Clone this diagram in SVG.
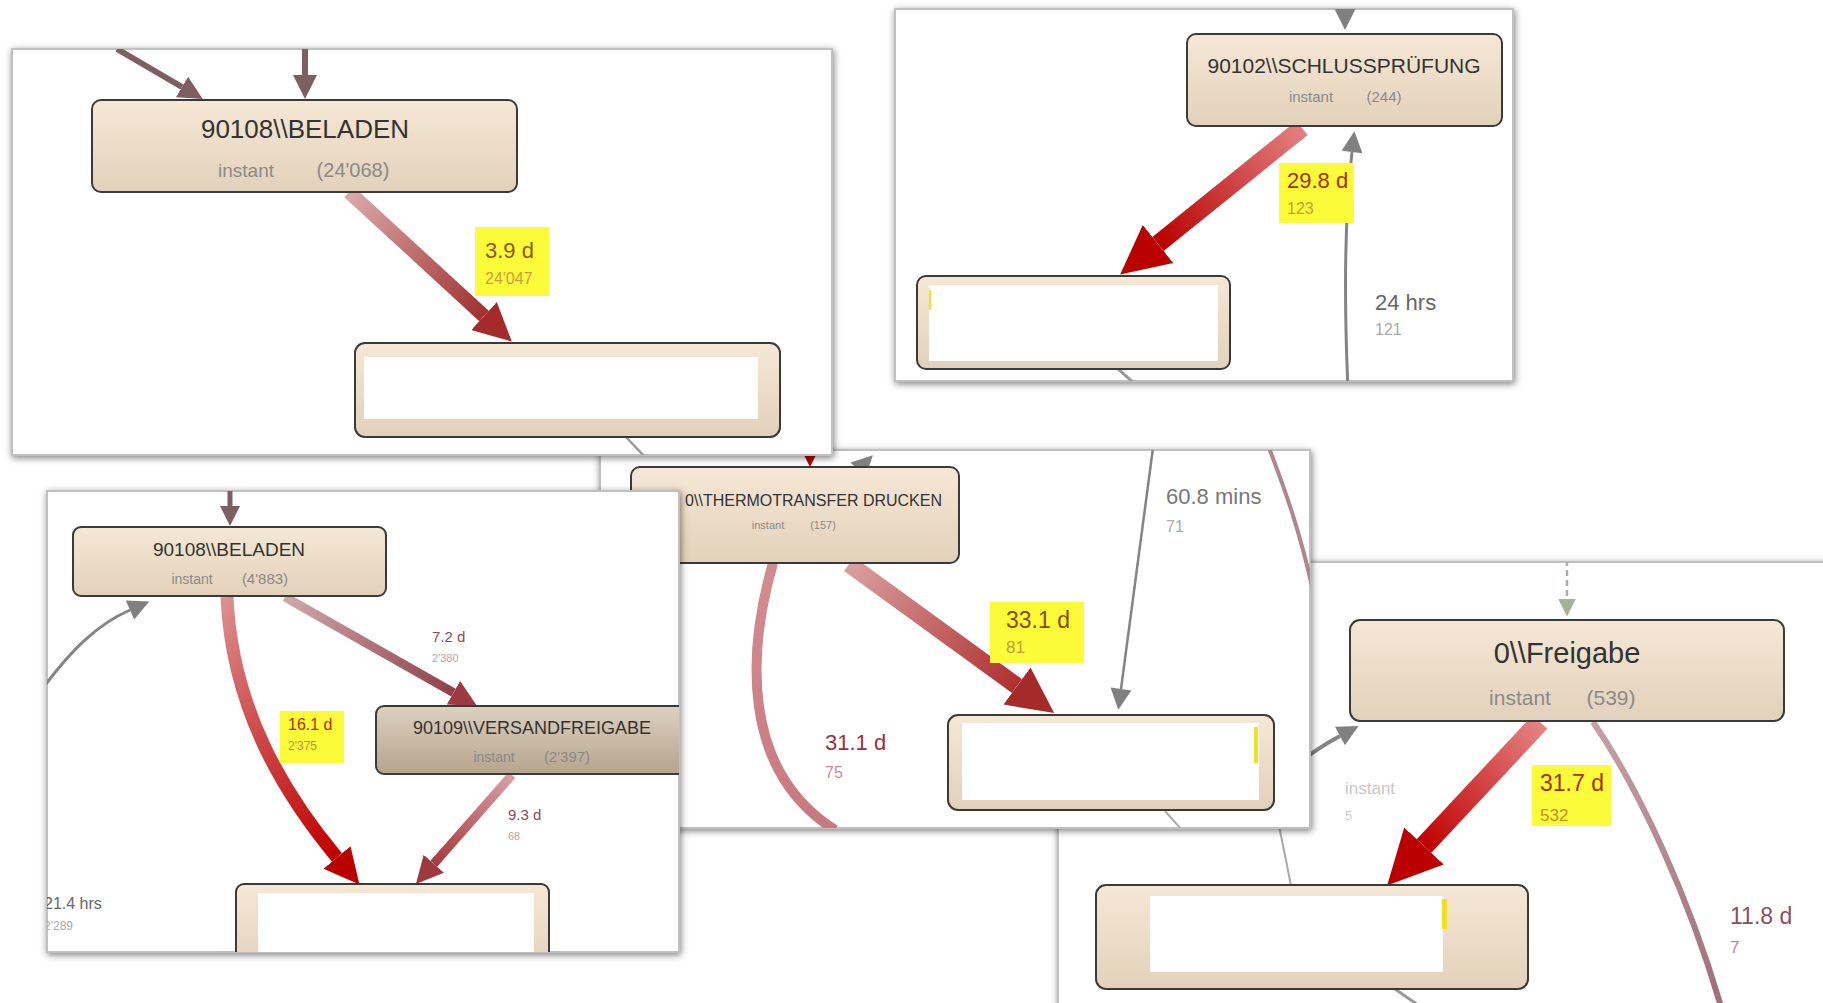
<svg xmlns="http://www.w3.org/2000/svg" width="1823" height="1003" viewBox="0 0 1823 1003">
<style>
text{font-family:"Liberation Sans",Arial,sans-serif}
.panel{fill:#fff;stroke:#c0c0c0;stroke-width:2;filter:url(#sh)}
.node{fill:url(#gNode);stroke:#3a3a3a;stroke-width:2}
.nodeDark{fill:url(#gNodeDark);stroke:#3a3a3a;stroke-width:2}
.inner{fill:#fff}
.title{fill:#333;text-anchor:middle}
.sub{fill:#8a8a8a;text-anchor:middle}
.ybox{fill:#fbfb3a}
.e{fill:none;stroke-linecap:butt}
.grey{stroke:#848484}
.mauve{stroke:#7d5f63}
</style>
<defs>
<filter id="sh" x="-5%" y="-5%" width="112%" height="115%"><feDropShadow dx="1" dy="2" stdDeviation="3.5" flood-color="#000" flood-opacity="0.5"/></filter>
<linearGradient id="gNode" x1="0" y1="0" x2="0" y2="1"><stop offset="0" stop-color="#f6e8d6"/><stop offset="1" stop-color="#e2d1ba"/></linearGradient>
<linearGradient id="gNodeDark" x1="0" y1="0" x2="0" y2="1"><stop offset="0" stop-color="#ddd0bf"/><stop offset="1" stop-color="#b5a48e"/></linearGradient>
<linearGradient id="gA1" gradientUnits="userSpaceOnUse" x1="349" y1="192" x2="484" y2="316"><stop offset="0" stop-color="#dcaaaa"/><stop offset="1" stop-color="#a03030"/></linearGradient>
<linearGradient id="gA2" gradientUnits="userSpaceOnUse" x1="1302" y1="128" x2="1158" y2="244"><stop offset="0" stop-color="#e48080"/><stop offset="1" stop-color="#b80000"/></linearGradient>
<linearGradient id="gA3c" gradientUnits="userSpaceOnUse" x1="227" y1="597" x2="337" y2="857"><stop offset="0" stop-color="#dc9090"/><stop offset="1" stop-color="#c00000"/></linearGradient>
<linearGradient id="gA3v" gradientUnits="userSpaceOnUse" x1="285" y1="597" x2="453" y2="693"><stop offset="0" stop-color="#cfa9ac"/><stop offset="1" stop-color="#904048"/></linearGradient>
<linearGradient id="gV" gradientUnits="userSpaceOnUse" x1="512" y1="775" x2="434" y2="864"><stop offset="0" stop-color="#d9a0a4"/><stop offset="1" stop-color="#a53a40"/></linearGradient>
<linearGradient id="gT1" gradientUnits="userSpaceOnUse" x1="773" y1="563" x2="835" y2="828"><stop offset="0" stop-color="#d28c90"/><stop offset="1" stop-color="#c87880"/></linearGradient>
<linearGradient id="gT2" gradientUnits="userSpaceOnUse" x1="849" y1="564" x2="1017" y2="686"><stop offset="0" stop-color="#daa0a0"/><stop offset="1" stop-color="#b03030"/></linearGradient>
<linearGradient id="gF1" gradientUnits="userSpaceOnUse" x1="1540" y1="722" x2="1424" y2="846"><stop offset="0" stop-color="#e48484"/><stop offset="1" stop-color="#c00000"/></linearGradient>
<linearGradient id="gF2" gradientUnits="userSpaceOnUse" x1="1593" y1="722" x2="1718" y2="1003"><stop offset="0" stop-color="#c6a0a6"/><stop offset="1" stop-color="#a0707a"/></linearGradient>
<marker id="mRed" viewBox="0 0 10 10" refX="0" refY="5" markerWidth="2.7" markerHeight="3.2" orient="auto" markerUnits="strokeWidth"><path d="M0,0 L10,5 L0,10 z" fill="#bb0000"/></marker>
<marker id="mDarkRed" viewBox="0 0 10 10" refX="0" refY="5" markerWidth="2.7" markerHeight="3.2" orient="auto" markerUnits="strokeWidth"><path d="M0,0 L10,5 L0,10 z" fill="#a52a2a"/></marker>
<marker id="mMid" viewBox="0 0 10 10" refX="0" refY="5" markerWidth="3" markerHeight="3.6" orient="auto" markerUnits="strokeWidth"><path d="M0,0 L10,5 L0,10 z" fill="#9c3a40"/></marker>
<marker id="mMauve" viewBox="0 0 10 10" refX="0" refY="5" markerWidth="4" markerHeight="5" orient="auto" markerUnits="strokeWidth"><path d="M0,0 L10,5 L0,10 z" fill="#7d5f63"/></marker>
<marker id="mGrey" viewBox="0 0 10 10" refX="0" refY="5" markerWidth="24" markerHeight="21" orient="auto" markerUnits="userSpaceOnUse"><path d="M0,0 L10,5 L0,10 z" fill="#808080"/></marker>
<marker id="mGreen" viewBox="0 0 10 10" refX="0" refY="5" markerWidth="8" markerHeight="7" orient="auto" markerUnits="strokeWidth"><path d="M0,0 L10,5 L0,10 z" fill="#a3b394"/></marker>
<clipPath id="c1"><rect x="12" y="49" width="820" height="406"/></clipPath>
<clipPath id="c2"><rect x="895" y="9" width="618" height="372"/></clipPath>
<clipPath id="c3"><rect x="47" y="491" width="632" height="461"/></clipPath>
<clipPath id="c4"><rect x="600" y="450" width="710" height="378"/></clipPath>
<clipPath id="c5"><rect x="1058" y="562" width="790" height="460"/></clipPath>
</defs>
<rect width="1823" height="1003" fill="#fff"/>

<!-- Panel 5 -->
<g id="panel5">
<rect class="panel" x="1058" y="562" width="790" height="460"/>
<g clip-path="url(#c5)">
<g id="connectors-p5">
<path class="e" d="M1567,560 L1567,599" stroke="#a3b394" stroke-width="2.5" stroke-dasharray="6,4" marker-end="url(#mGreen)"/>
<path class="e grey" d="M1285,775 Q1310,752 1340,736" stroke="#7a7a7a" stroke-width="4" marker-end="url(#mGrey)"/>
<path class="e" d="M1540,722 L1424,846" stroke="url(#gF1)" stroke-width="20" marker-end="url(#mRed)"/>
<path class="e" d="M1593,722 C1640,790 1690,900 1722,1010" stroke="url(#gF2)" stroke-width="6"/>
<path class="e" d="M1279,826 C1284,850 1288,870 1291,886" stroke="#aaaaaa" stroke-width="2"/>
<path class="e" d="M1395,989 L1418,1005" stroke="#999" stroke-width="3"/>
<rect class="ybox" x="1532" y="765" width="79" height="61"/>
<text x="1540" y="791" font-size="23" fill="#a83000">31.7 d</text>
<text x="1540" y="821" font-size="17" fill="#c09030">532</text>
<text x="1345" y="794" font-size="17" fill="#c8c8c8">instant</text>
<text x="1345" y="820" font-size="13" fill="#cccccc">5</text>
<text x="1730" y="924" font-size="23" fill="#8a5060">11.8 d</text>
<text x="1730" y="953" font-size="17" fill="#b090a0">7</text>
</g>
<g id="node-freigabe">
<rect class="node" x="1350" y="620" width="434" height="101" rx="10"/>
<text class="title" x="1567" y="663" font-size="29">0\\Freigabe</text>
<text class="sub" x="1520" y="705" font-size="21">instant</text>
<text class="sub" x="1611" y="705" font-size="21">(539)</text>
</g>
<g id="node-p5-bottom">
<rect class="node" x="1096" y="885" width="432" height="104" rx="10"/>
<rect class="inner" x="1150" y="896" width="293" height="76"/>
<rect x="1442" y="899" width="5" height="30" fill="#f0e020"/>
</g>
</g>
</g>

<!-- Panel 4 -->
<g id="panel4">
<rect class="panel" x="600" y="450" width="710" height="378"/>
<g clip-path="url(#c4)">
<g id="connectors-p4">
<path class="e" d="M810,400 L810,434.6" stroke="#b80000" stroke-width="12" marker-end="url(#mRed)"/>
<path class="e grey" d="M848,480 L858,470" stroke-width="3" marker-end="url(#mGrey)"/>
<path class="e" d="M773,563 C748,650 740,770 835,830" stroke="url(#gT1)" stroke-width="10"/>
<path class="e" d="M849,564 L1017,686" stroke="url(#gT2)" stroke-width="17" marker-end="url(#mDarkRed)"/>
<path class="e grey" d="M1153,448 L1121,689" stroke-width="2.5" marker-end="url(#mGrey)"/>
<path class="e" d="M1268,445 C1285,490 1300,530 1315,600" stroke="#b0868d" stroke-width="4"/>
<path class="e" d="M1165,811 L1182,830" stroke="#aaa" stroke-width="2"/>
<rect class="ybox" x="990" y="602" width="94" height="61"/>
<text x="1006" y="628" font-size="23" fill="#8a4a00">33.1 d</text>
<text x="1006" y="653" font-size="17" fill="#c0a040">81</text>
<text x="825" y="750" font-size="22" fill="#9a3040">31.1 d</text>
<text x="825" y="778" font-size="16" fill="#c090a0">75</text>
<text x="1166" y="504" font-size="22" fill="#777">60.8 mins</text>
<text x="1166" y="532" font-size="16" fill="#aaa">71</text>
</g>
<g id="node-thermotransfer">
<rect class="node" x="631" y="467" width="328" height="96" rx="9"/>
<text x="942" y="506" font-size="16" fill="#333" text-anchor="end">0\\THERMOTRANSFER DRUCKEN</text>
<text class="sub" x="768" y="529" font-size="11">instant</text>
<text class="sub" x="823" y="529" font-size="11">(157)</text>
</g>
<g id="node-p4-bottom">
<rect class="node" x="948" y="715" width="326" height="95" rx="10"/>
<rect class="inner" x="962" y="723" width="297" height="77"/>
<rect x="1254" y="727" width="4" height="36" fill="#f0e020"/>
</g>
</g>
</g>

<!-- Panel 2 -->
<g id="panel2">
<rect class="panel" x="895" y="9" width="618" height="372"/>
<g clip-path="url(#c2)">
<g id="connectors-p2">
<path class="e" d="M1345,0 L1345,9" stroke="#6f6f6f" stroke-width="3.5" marker-end="url(#mGrey)"/>
<path class="e" d="M1302,128 L1158,244" stroke="url(#gA2)" stroke-width="18" marker-end="url(#mRed)"/>
<path class="e grey" d="M1348,390 C1344,300 1344,222 1352,152" stroke="#8a8a8a" stroke-width="3" marker-end="url(#mGrey)"/>
<path class="e" d="M1117,368 L1135,384" stroke="#999" stroke-width="3"/>
<rect class="ybox" x="1279" y="163" width="75" height="60"/>
<text x="1287" y="188" font-size="22" fill="#a83000">29.8 d</text>
<text x="1287" y="214" font-size="16" fill="#c8a030">123</text>
<text x="1375" y="310" font-size="22" fill="#666">24 hrs</text>
<text x="1375" y="335" font-size="16" fill="#aaa">121</text>
</g>
<g id="node-schlusspruefung">
<rect class="node" x="1187" y="34" width="315" height="92" rx="9"/>
<text class="title" x="1344" y="73" font-size="21">90102\\SCHLUSSPRÜFUNG</text>
<text class="sub" x="1311" y="102" font-size="15">instant</text>
<text class="sub" x="1384" y="102" font-size="15">(244)</text>
</g>
<g id="node-p2-bottom">
<rect class="node" x="917" y="276" width="313" height="93" rx="9"/>
<rect class="inner" x="929" y="285" width="289" height="76"/>
<rect x="929" y="290" width="2" height="20" fill="#f0e020"/>
</g>
</g>
</g>

<!-- Panel 1 -->
<g id="panel1">
<rect class="panel" x="12" y="49" width="820" height="406"/>
<g clip-path="url(#c1)">
<g id="connectors-p1">
<path class="e mauve" d="M117,49 L182,87" stroke-width="6" marker-end="url(#mMauve)"/>
<path class="e mauve" d="M305,49 L305,75" stroke-width="6" marker-end="url(#mMauve)"/>
<path class="e" d="M349,192 L484,316" stroke="url(#gA1)" stroke-width="14" marker-end="url(#mDarkRed)"/>
<path class="e" d="M626,437 L645,457" stroke="#9a9a9a" stroke-width="2.5"/>
<rect class="ybox" x="475" y="227" width="74" height="69"/>
<text x="485" y="258" font-size="22" fill="#8b5a10">3.9 d</text>
<text x="485" y="284" font-size="16" fill="#c8a040">24'047</text>
</g>
<g id="node-beladen-1">
<rect class="node" x="92" y="100" width="425" height="92" rx="9"/>
<text class="title" x="305" y="138" font-size="26">90108\\BELADEN</text>
<text class="sub" x="246" y="177" font-size="19">instant</text>
<text class="sub" x="353" y="177" font-size="20">(24'068)</text>
</g>
<g id="node-p1-bottom">
<rect class="node" x="355" y="343" width="425" height="94" rx="10"/>
<rect class="inner" x="364" y="357" width="394" height="62"/>
</g>
</g>
</g>

<!-- Panel 3 -->
<g id="panel3">
<rect class="panel" x="47" y="491" width="632" height="461"/>
<g clip-path="url(#c3)">
<g id="connectors-p3">
<path class="e mauve" d="M230,480 L230,506" stroke="#8a5f63" stroke-width="5" marker-end="url(#mMauve)"/>
<path class="e grey" d="M38,695 C70,650 98,624 130,610" stroke="#777" stroke-width="3" marker-end="url(#mGrey)"/>
<path class="e" d="M227,597 C232,710 285,795 337,857.5" stroke="url(#gA3c)" stroke-width="13" marker-end="url(#mRed)"/>
<path class="e" d="M285,597 L453.5,692.7" stroke="url(#gA3v)" stroke-width="9" marker-end="url(#mMid)"/>
<path class="e" d="M512,775 L433.8,863.7" stroke="url(#gV)" stroke-width="9" marker-end="url(#mMid)"/>
<rect class="ybox" x="280" y="711" width="64" height="52"/>
<text x="288" y="730" font-size="16" fill="#b03000">16.1 d</text>
<text x="288" y="750" font-size="12" fill="#c09040">2'375</text>
<text x="432" y="642" font-size="15" fill="#8a4a5a">7.2 d</text>
<text x="432" y="662" font-size="11" fill="#c0a0a8">2'380</text>
<text x="508" y="820" font-size="15" fill="#8a4a5a">9.3 d</text>
<text x="508" y="840" font-size="11" fill="#c0a0a8">68</text>
<text x="44" y="909" font-size="16" fill="#666">21.4 hrs</text>
<text x="44" y="930" font-size="12" fill="#aaa">2'289</text>
</g>
<g id="node-beladen-2">
<rect class="node" x="73" y="527" width="313" height="69" rx="8"/>
<text class="title" x="229" y="556" font-size="19">90108\\BELADEN</text>
<text class="sub" x="192" y="584" font-size="14">instant</text>
<text class="sub" x="265" y="584" font-size="15">(4'883)</text>
</g>
<g id="node-versandfreigabe">
<rect class="nodeDark" x="376" y="706" width="330" height="68" rx="8"/>
<text class="title" x="532" y="734" font-size="18">90109\\VERSANDFREIGABE</text>
<text class="sub" x="494" y="762" font-size="14">instant</text>
<text class="sub" x="567" y="762" font-size="15">(2'397)</text>
</g>
<g id="node-p3-bottom">
<rect class="node" x="236" y="884" width="313" height="90" rx="8"/>
<rect class="inner" x="258" y="893" width="276" height="70"/>
</g>
</g>
</g>
</svg>
